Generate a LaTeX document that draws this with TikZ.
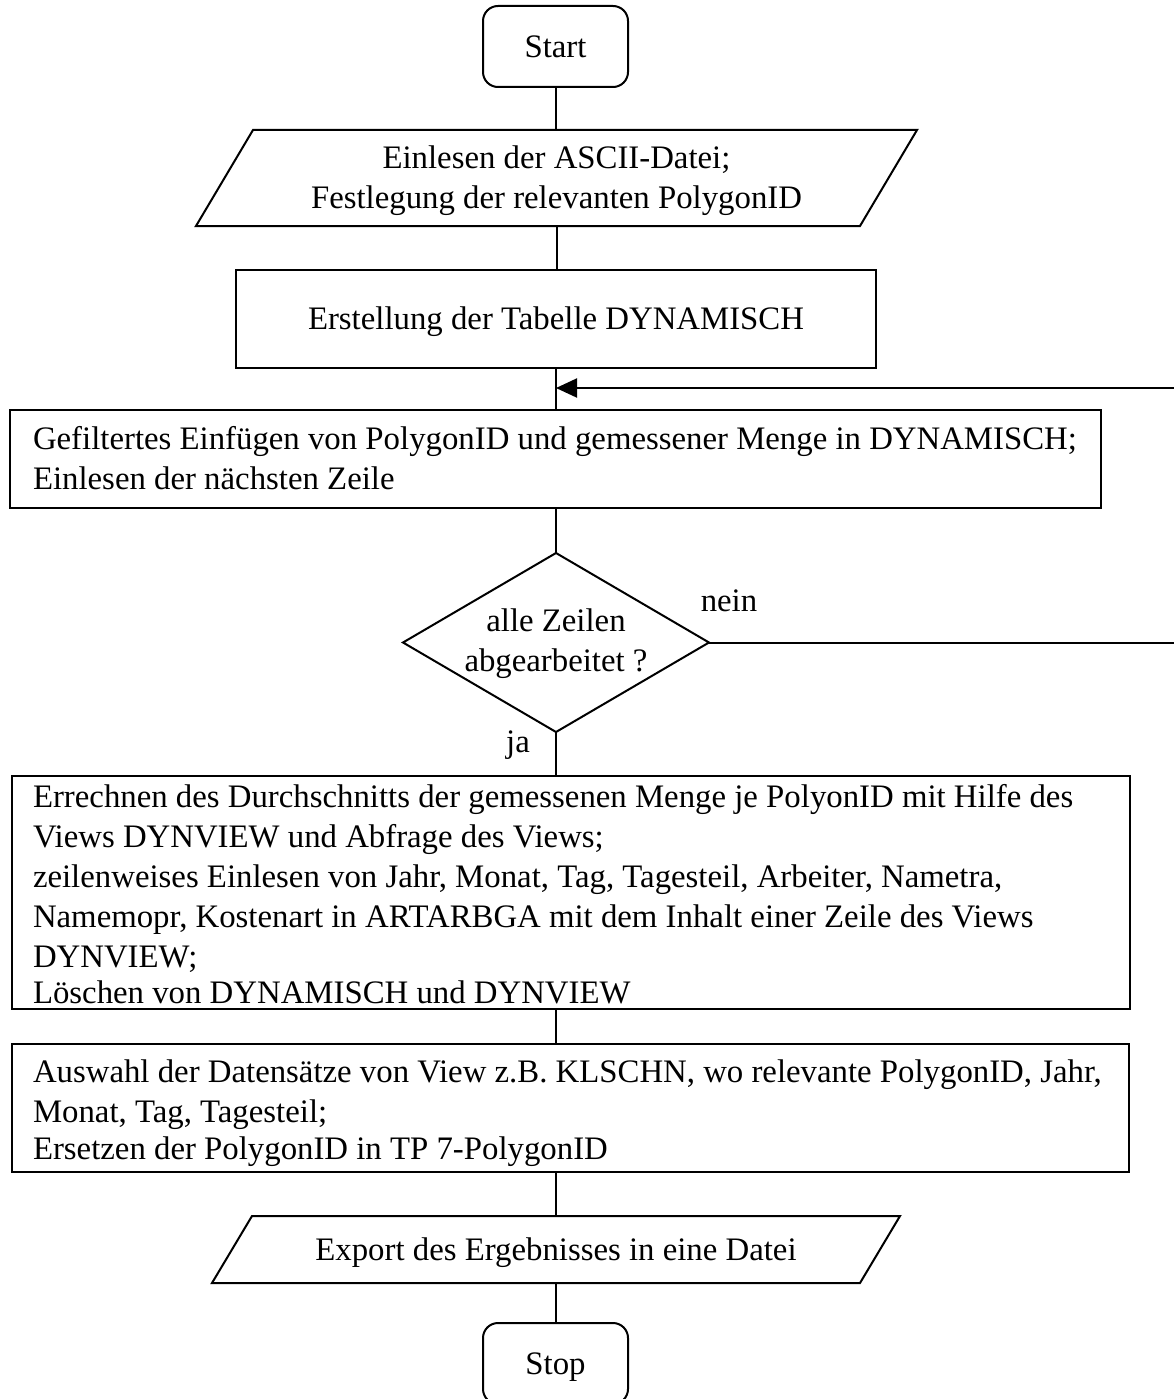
\documentclass[tikz,border=0pt]{standalone}
\usepackage{fontspec}
\setmainfont{Liberation Serif}
\usetikzlibrary{arrows.meta,shapes.geometric}

\begin{document}
\begin{tikzpicture}[x=1pt,y=-1pt,line width=2pt,
  every node/.style={font=\fontsize{32.8}{40}\selectfont,inner sep=0pt,outer sep=0pt},
  term/.style={draw,rounded corners=15pt,minimum width=145pt,minimum height=81pt,
    text height=22pt,text depth=0pt},
  proc/.style={draw,rectangle},
  iobox/.style={rectangle,text height=22pt,text depth=0pt},
  decision/.style={draw,diamond,minimum width=306pt,minimum height=179pt},
  para/.style={anchor=north west,align=left},
  midtext/.style={anchor=north,align=center},
  lbl/.style={anchor=base},
  flow/.style={line width=2pt},
  back/.style={line width=2pt,-{Triangle[length=21pt,width=19pt]}}
]
\fill[white] (0,0) rectangle (1174,1399);
\useasboundingbox (0,0) rectangle (1174,1399);

% terminals
\node[term] (start) at (555.5,46.5) {Start};
\node[term] (stop) at (555.5,1363.5) {Stop};

% input: read file
\node[iobox,minimum width=664pt,minimum height=96pt] (inp) at (556.5,178) {};
\draw[flow] ([xshift=28.5pt]inp.north west) -- ([xshift=28.5pt]inp.north east)
  -- ([xshift=-28.5pt]inp.south east) -- ([xshift=-28.5pt]inp.south west) -- cycle;
\node[midtext] (tinp) at (556.5,144) {\rule{0pt}{24pt}Einlesen der ASCII-Datei;\\Festlegung der relevanten PolygonID};

% create table
\node[proc,minimum width=640pt,minimum height=98pt,text height=22pt,text depth=0pt] (make) at (556,318.5)
  {Erstellung der Tabelle DYNAMISCH};

% insert rows
\node[proc,minimum width=1091pt,minimum height=98pt] (ins) at (555.5,459) {};
\node[para] (tins) at (33,425) {\rule{0pt}{24pt}Gefiltertes Einfügen von PolygonID und gemessener Menge in DYNAMISCH;\\Einlesen der nächsten Zeile};

% decision
\node[decision] (dec) at (556,642.5) {};
\node[midtext] (tdec) at (556,607) {\rule{0pt}{24pt}alle Zeilen\\abgearbeitet ?};
\node[lbl] (nein) at (729,611) {nein};
\node[lbl] (ja) at (518,752) {ja};

% averages
\node[proc,minimum width=1118pt,minimum height=233pt] (avg) at (571,892.5) {};
\node[para] (tavg) at (33,783) {\rule{0pt}{24pt}Errechnen des Durchschnitts der gemessenen Menge je PolyonID mit Hilfe des\\
Views DYNVIEW und Abfrage des Views;\\
zeilenweises Einlesen von Jahr, Monat, Tag, Tagesteil, Arbeiter, Nametra,\\
Namemopr, Kostenart in ARTARBGA mit dem Inhalt einer Zeile des Views\\
DYNVIEW;\\[-4pt]
Löschen von DYNAMISCH und DYNVIEW};

% selection
\node[proc,minimum width=1117pt,minimum height=128pt] (sel) at (570.5,1108) {};
\node[para] (tsel) at (33,1058) {\rule{0pt}{24pt}Auswahl der Datensätze von View z.B. KLSCHN, wo relevante PolygonID, Jahr,\\
Monat, Tag, Tagesteil;\\[-3pt]
Ersetzen der PolygonID in TP 7-PolygonID};

% output: export
\node[iobox,minimum width=648pt,minimum height=67pt] (exprt) at (556,1249.5) {Export des Ergebnisses in eine Datei};
\draw[flow] ([xshift=20pt]exprt.north west) -- ([xshift=20pt]exprt.north east)
  -- ([xshift=-20pt]exprt.south east) -- ([xshift=-20pt]exprt.south west) -- cycle;

% main flow
\draw[flow] (start.south) -- (start.south |- inp.north);
\draw[flow] (inp.south) -- (inp.south |- make.north);
\draw[flow] (make.south) -- (make.south |- ins.north);
\draw[flow] (make.south |- ins.south) -- (dec.north);
\draw[flow] (dec.south) -- (dec.south |- avg.north);
\draw[flow] (dec.south |- avg.south) -- (dec.south |- sel.north);
\draw[flow] (dec.south |- sel.south) -- (exprt.north);
\draw[flow] (exprt.south) -- (exprt.south |- stop.north);

% loop back
\coordinate (e1) at (1180,642.5);
\coordinate (e2) at (1180,388);
\coordinate (merge) at (556,388);
\draw[back] (dec.east) -- (e1) -- (e2) -- (merge);
\end{tikzpicture}
\end{document}
